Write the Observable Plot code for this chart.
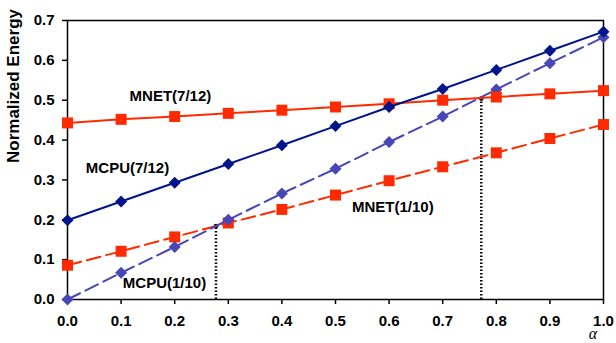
<!DOCTYPE html>
<html>
<head>
<meta charset="utf-8">
<script src="https://cdn.jsdelivr.net/npm/d3@7"></script>
<script src="https://cdn.jsdelivr.net/npm/@observablehq/plot@0.6"></script>
<style>
  html, body { margin: 0; padding: 0; background: #fff; }
  #chart { width: 616px; height: 343px; overflow: hidden; }
  svg { font-family: "Liberation Sans", Arial, sans-serif; }
</style>
</head>
<body>
<div id="chart"></div>
<script>
const alpha = [0.0, 0.1, 0.2, 0.3, 0.4, 0.5, 0.6, 0.7, 0.8, 0.9, 1.0];
const mnet712 = [0.443, 0.452, 0.459, 0.467, 0.475, 0.483, 0.491, 0.500, 0.508, 0.516, 0.524];
const mcpu712 = [0.199, 0.246, 0.293, 0.340, 0.387, 0.435, 0.483, 0.528, 0.576, 0.624, 0.672];
const mnet110 = [0.086, 0.121, 0.157, 0.192, 0.226, 0.262, 0.298, 0.333, 0.368, 0.404, 0.439];
const mcpu110 = [0.000, 0.067, 0.132, 0.200, 0.266, 0.328, 0.395, 0.459, 0.527, 0.593, 0.658];

const xTicks = alpha;
const yTicks = [0.0, 0.1, 0.2, 0.3, 0.4, 0.5, 0.6, 0.7];

// series labels (placed in data space)
const labelNames = ["MNET(7/12)", "MCPU(7/12)", "MNET(1/10)", "MCPU(1/10)"];
const labelX = [0.192, 0.112, 0.607, 0.181];
const labelY = [0.510, 0.330, 0.232, 0.040];

// crossover points marked with dotted drop lines
const crossX = [0.277, 0.772];
const crossY = [0.184, 0.504];

const rows = (vals) => alpha.map((a, i) => ({a, v: vals[i]}));
const labels = labelNames.map((t, i) => ({t, x: labelX[i], y: labelY[i]}));
const cross = crossX.map((x, i) => ({x, y: crossY[i]}));

const RED = "#ff2a00";
const NAVY = "#00148c";
const BLUE = "#4747b5";

const chart = Plot.plot({
  width: 616,
  height: 343,
  marginLeft: 67,
  marginRight: 13,
  marginTop: 20,
  marginBottom: 44,
  style: {fontFamily: "'Liberation Sans', Arial, sans-serif", background: "white"},
  x: {domain: [0, 1]},
  y: {domain: [0, 0.7]},
  marks: [
    Plot.axisX({ticks: xTicks, tickFormat: d3.format(".1f"), tickSize: 5, tickPadding: 11,
      fontSize: 15, fontWeight: "bold", stroke: "black", strokeWidth: 1.5,
      label: null}),
    Plot.axisY({ticks: yTicks, tickFormat: d3.format(".1f"), tickSize: 5, tickPadding: 8,
      fontSize: 15, fontWeight: "bold", stroke: "black", strokeWidth: 1.5,
      label: null}),
    Plot.frame({stroke: "black", strokeWidth: 1.5}),
    // dotted drop lines
    Plot.ruleX(cross, {x: "x", y1: 0, y2: "y", stroke: "black", strokeWidth: 2.5, strokeDasharray: "1.5,2"}),
    Plot.dot(cross, {x: "x", y: "y", r: 2.3, fill: "black"}),
    // MNET(1/10)
    Plot.line(rows(mnet110), {x: "a", y: "v", stroke: RED, strokeWidth: 2, strokeDasharray: "14,6"}),
    Plot.dot(rows(mnet110), {x: "a", y: "v", symbol: "square", r: 6.2, fill: RED}),
    // MCPU(1/10)
    Plot.line(rows(mcpu110), {x: "a", y: "v", stroke: BLUE, strokeWidth: 2, strokeDasharray: "14,6"}),
    Plot.dot(rows(mcpu110), {x: "a", y: "v", symbol: "diamond2", r: 5.4, fill: BLUE}),
    // MNET(7/12)
    Plot.line(rows(mnet712), {x: "a", y: "v", stroke: RED, strokeWidth: 2}),
    Plot.dot(rows(mnet712), {x: "a", y: "v", symbol: "square", r: 6.2, fill: RED}),
    // MCPU(7/12)
    Plot.line(rows(mcpu712), {x: "a", y: "v", stroke: NAVY, strokeWidth: 2}),
    Plot.dot(rows(mcpu712), {x: "a", y: "v", symbol: "diamond2", r: 5.4, fill: NAVY}),
    // labels
    Plot.text(labels, {x: "x", y: "y", text: "t", fontSize: 15, fontWeight: "bold", fill: "black", textAnchor: "middle"})
  ]
});

const svg = d3.select(chart);
// y-axis title
svg.append("text")
  .attr("transform", "translate(15,86) rotate(-90)")
  .attr("text-anchor", "middle")
  .attr("dominant-baseline", "middle")
  .attr("font-size", 17)
  .attr("font-weight", "bold")
  .attr("fill", "black")
  .text("Normalized Energy");
// x-axis title (alpha)
svg.append("text")
  .attr("x", 593)
  .attr("y", 339)
  .attr("text-anchor", "middle")
  .attr("font-family", "'Liberation Serif', 'DejaVu Serif', serif")
  .attr("font-style", "italic")
  .attr("font-size", 16)
  .attr("fill", "black")
  .text("α");

document.getElementById("chart").append(chart);
</script>
</body>
</html>
